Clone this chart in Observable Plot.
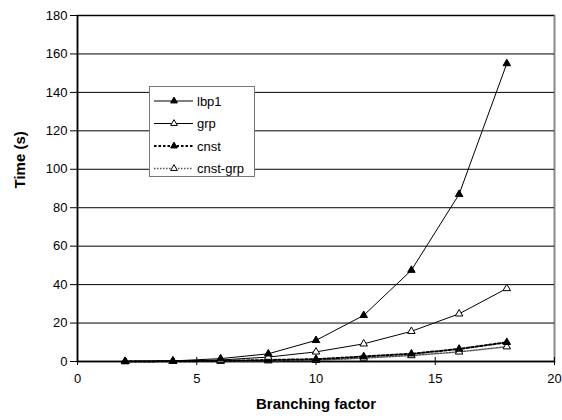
<!DOCTYPE html>
<html>
<head>
<meta charset="utf-8">
<script src="https://cdn.jsdelivr.net/npm/d3@7"></script>
<script src="https://cdn.jsdelivr.net/npm/@observablehq/plot@0.6"></script>
<style>
  body { margin: 0; background: #fff; }
  #wrap { position: relative; width: 562px; height: 420px; font-family: "Liberation Sans", Arial, sans-serif; }
  #legend { position: absolute; left: 149px; top: 86px; background: #fff; border: 1px solid #777; }
</style>
</head>
<body>
<div id="wrap"><div id="chart"></div><div id="legend"></div></div>
<script>
// Branching factor values
const branching = [2, 4, 6, 8, 10, 12, 14, 16, 18];
// Run times in seconds per method
const lbp1    = [0.1, 0.3, 1.5, 4, 11, 24, 47.5, 87, 155];
const grp     = [0.1, 0.2, 0.8, 2.3, 5, 9.2, 15.7, 24.8, 38];
const cnst    = [0, 0.1, 0.3, 0.8, 1.2, 2.6, 4, 6.5, 10];
const cnstGrp = [0, 0.1, 0.2, 0.4, 0.6, 1.8, 3.1, 5, 7.7];
// Axis ticks
const xTicks = [0, 5, 10, 15, 20];
const yTicks = [0, 20, 40, 60, 80, 100, 120, 140, 160, 180];

const seriesDefs = [
  {name: "lbp1", values: lbp1, fill: "#000", stroke: "#000", width: 1, dash: null},
  {name: "grp", values: grp, fill: "#fff", stroke: "#000", width: 1, dash: null},
  {name: "cnst", values: cnst, fill: "#000", stroke: "#000", width: 2, dash: "2.5,2"},
  {name: "cnst-grp", values: cnstGrp, fill: "#fff", stroke: "#555", width: 1.5, dash: "1.5,1.5"}
];

const rows = s => branching.map((b, i) => ({x: b, y: s.values[i]}));
const markerR = 2.8;

const marks = [
  Plot.frame({stroke: "#888", strokeWidth: 2}),
  Plot.ruleY(yTicks.filter(t => t > 0), {stroke: "#000", strokeWidth: 1}),
  Plot.axisY(yTicks, {tickSize: 7, tickPadding: 3, fontSize: 13, label: null}),
  Plot.axisX(xTicks, {tickSize: 4, tickPadding: 8, fontSize: 13, label: null}),
  Plot.axisX(xTicks, {tickSize: -4, text: null, label: null}),
  Plot.ruleX([0], {stroke: "#000", strokeWidth: 1.5}),
  Plot.ruleY([0], {stroke: "#000", strokeWidth: 1.5}),
  Plot.text(["Time (s)"], {frameAnchor: "left", dx: -57, rotate: -90, fontSize: 15, fontWeight: "bold"}),
  Plot.text(["Branching factor"], {frameAnchor: "bottom", dy: 47, fontSize: 15, fontWeight: "bold"})
];
for (const s of seriesDefs.slice().reverse()) {
  marks.push(Plot.line(rows(s), {x: "x", y: "y", stroke: s.stroke, strokeWidth: s.width, strokeDasharray: s.dash}));
}
for (const s of seriesDefs.slice().reverse()) {
  marks.push(Plot.dot(rows(s), {x: "x", y: "y", symbol: "triangle", r: markerR, fill: s.fill, stroke: "#000", strokeWidth: 1}));
}

const chart = Plot.plot({
  width: 562,
  height: 420,
  marginLeft: 77,
  marginRight: 8,
  marginTop: 15,
  marginBottom: 59,
  style: {fontFamily: "'Liberation Sans', Arial, sans-serif", color: "#000", background: "#fff"},
  x: {domain: [0, 20]},
  y: {domain: [0, 180]},
  marks
});
document.getElementById("chart").append(chart);

// Legend: line swatch with marker, then series name
const lw = 104, rowH = 22.5;
const leg = d3.select("#legend").append("svg")
  .attr("width", lw).attr("height", 89)
  .style("display", "block")
  .attr("font-family", "'Liberation Sans', Arial, sans-serif");
const tri = d3.symbol(d3.symbolTriangle, Math.PI * 2.5 * 2.5);
seriesDefs.forEach((s, i) => {
  const g = leg.append("g").attr("transform", `translate(0,${14 + i * rowH})`);
  g.append("line").attr("x1", 4).attr("x2", 43).attr("y1", 0).attr("y2", 0)
    .attr("stroke", s.stroke).attr("stroke-width", s.width)
    .attr("stroke-dasharray", s.dash);
  g.append("path").attr("d", tri()).attr("transform", "translate(24,0)")
    .attr("fill", s.fill).attr("stroke", "#000");
  g.append("text").attr("x", 47).attr("y", 0).attr("dy", "0.35em")
    .attr("font-size", 13).text(s.name);
});
</script>
</body>
</html>
